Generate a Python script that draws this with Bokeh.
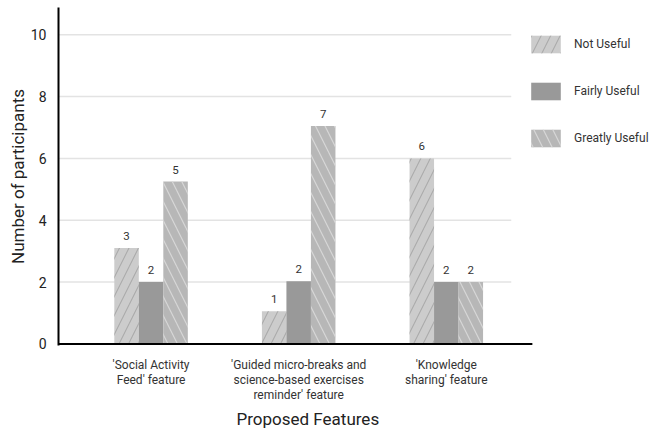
from bokeh.plotting import figure
from bokeh.models import ColumnDataSource, Range1d, Legend, LegendItem, FixedTicker, Title
from bokeh.core.properties import value
from bokeh.embed import file_html
from bokeh.resources import INLINE

# ---- data ----
features = ["'Social Activity\nFeed' feature",
            "'Guided micro-breaks and\nscience-based exercises\nreminder' feature",
            "'Knowledge\nsharing' feature"]
series = ["Not Useful", "Fairly Useful", "Greatly Useful"]
not_useful = [3.1, 1.06, 6.0]
fairly_useful = [2.0, 2.03, 2.0]
greatly_useful = [5.25, 7.05, 2.0]
not_useful_labels = ["3", "1", "6"]
fairly_useful_labels = ["2", "2", "2"]
greatly_useful_labels = ["5", "7", "2"]
y_ticks = [0, 2, 4, 6, 8, 10]

FONT = "Roboto"
group_x = [1, 2, 3]
bw = 0.166
x_start, axis_end, grid_end, x_end = 0.373, 3.583, 3.44, 4.39

p = figure(width=651, height=430, output_backend="svg", toolbar_location=None,
           x_range=Range1d(x_start, x_end), y_range=Range1d(-0.05, 10.88),
           min_border_left=58, min_border_right=0, min_border_top=7, min_border_bottom=80)
p.outline_line_color = None
p.xgrid.visible = False
p.ygrid.visible = False

# gridlines (segments so they stop before the axis end)
gy = [t for t in y_ticks if t > 0]
p.segment(x0=[x_start] * len(gy), y0=gy, x1=[grid_end] * len(gy), y1=gy,
          line_color="#e3e3e3", line_width=1.5)

styles = [
    dict(fill_color="#cccccc", hatch_pattern="/", hatch_color="#ababab", hatch_scale=19, hatch_weight=1.1),
    dict(fill_color="#999999"),
    dict(fill_color="#b7b7b7", hatch_pattern="\\", hatch_color="#d8d8d8", hatch_scale=19, hatch_weight=1.1),
]
vals = [not_useful, fairly_useful, greatly_useful]
labs = [not_useful_labels, fairly_useful_labels, greatly_useful_labels]
renderers = []
for i, (v, lab, st) in enumerate(zip(vals, labs, styles)):
    xs = [g + (i - 1) * bw for g in group_x]
    src = ColumnDataSource(dict(x=xs, top=v, lab=lab))
    r = p.vbar(x="x", top="top", width=bw, source=src, line_color=None, **st)
    renderers.append(r)
    p.text(x="x", y="top", text="lab", source=src, text_align="center", text_baseline="middle",
           y_offset=-12, text_font=value(FONT), text_font_size="11.5px", text_color="#333333")

# x axis line (drawn so it stops at the plot's end, not the legend)
p.segment(x0=[x_start], y0=[0], x1=[axis_end], y1=[0], line_color="black", line_width=2)

# y axis
p.yaxis.ticker = FixedTicker(ticks=y_ticks)
p.yaxis.axis_line_color = "black"
p.yaxis.axis_line_width = 2
p.yaxis.major_tick_line_color = None
p.yaxis.minor_tick_line_color = None
p.yaxis.major_tick_out = 0
p.yaxis.major_label_standoff = 12
p.yaxis.major_label_text_font = FONT
p.yaxis.major_label_text_font_size = "14px"
p.yaxis.major_label_text_color = "#222222"
p.yaxis.axis_label = "Number of participants"
p.yaxis.axis_label_text_font = FONT
p.yaxis.axis_label_text_font_size = "17px"
p.yaxis.axis_label_text_font_style = "normal"
p.yaxis.axis_label_text_color = "#222222"
p.yaxis.axis_label_standoff = 0

# x axis: category labels only
p.xaxis.ticker = FixedTicker(ticks=group_x)
p.xaxis.major_label_overrides = {g: f for g, f in zip(group_x, features)}
p.xaxis.axis_line_color = None
p.xaxis.major_tick_line_color = None
p.xaxis.minor_tick_line_color = None
p.xaxis.major_tick_out = 0
p.xaxis.major_label_standoff = 12
p.xaxis.major_label_text_font = FONT
p.xaxis.major_label_text_font_size = "12px"
p.xaxis.major_label_text_color = "#333333"
p.xaxis.major_label_text_line_height = 1.1

p.add_layout(Title(text="Proposed Features", align="left", offset=178, text_font=FONT,
                   text_font_size="17px", text_font_style="normal", text_color="#222222",
                   standoff=3), "below")

legend = Legend(items=[LegendItem(label=s, renderers=[r]) for s, r in zip(series, renderers)],
                location=(469, 196), orientation="vertical", glyph_width=37, glyph_height=22,
                label_height=22, spacing=25, padding=0, margin=0, label_standoff=10,
                label_text_font=FONT, label_text_font_size="12px", label_text_color="#333333",
                border_line_color=None, background_fill_alpha=0)
p.add_layout(legend)

open("out.html", "w").write(file_html(p, INLINE))
